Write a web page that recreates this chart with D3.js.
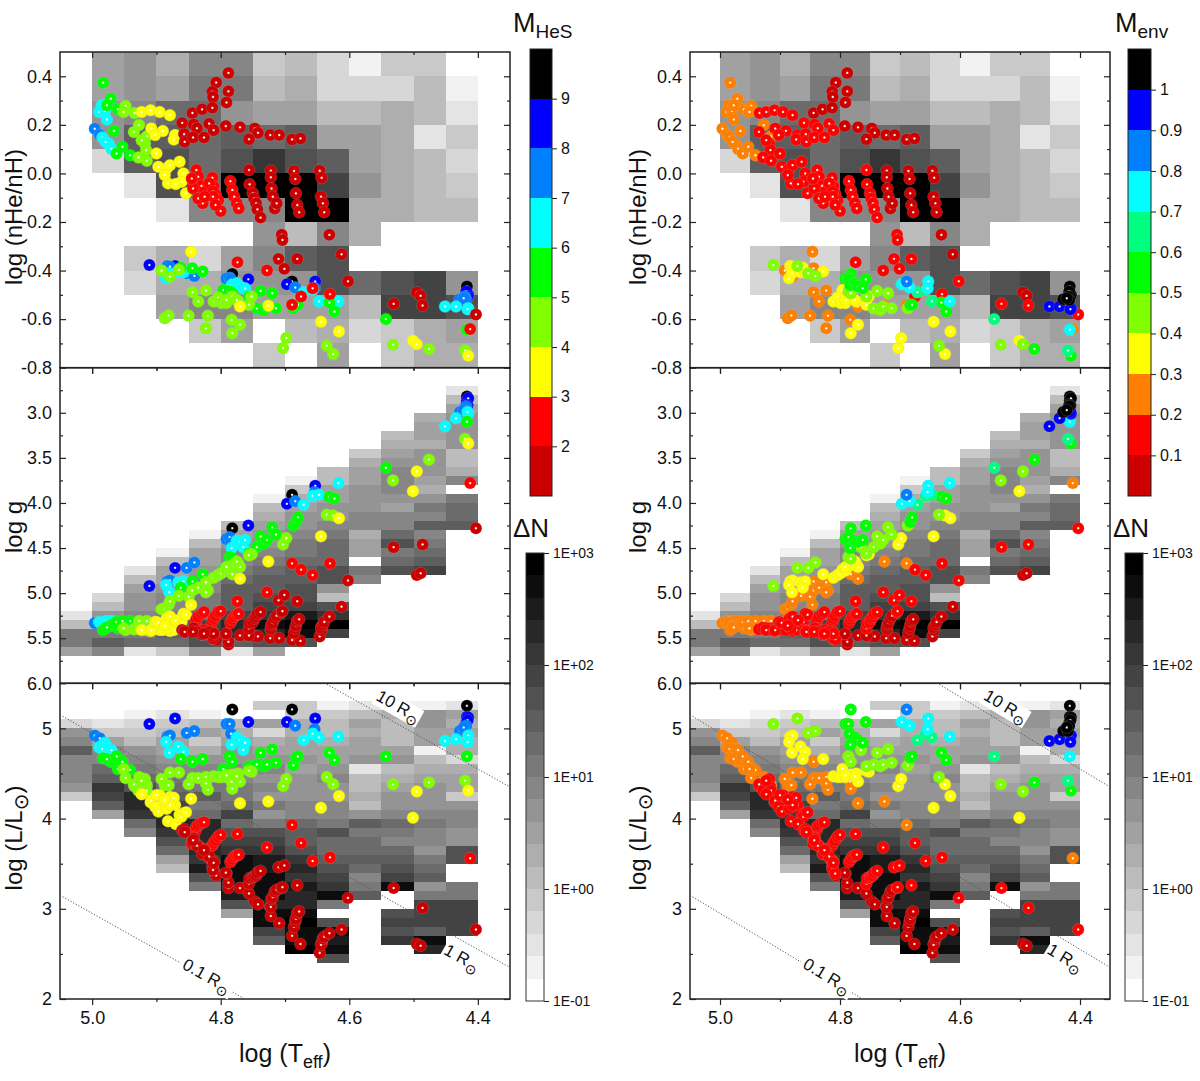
<!DOCTYPE html>
<html>
<head>
<meta charset="utf-8">
<script src="https://d3js.org/d3.v7.min.js"></script>
<style>
  body { margin: 0; background: #fff; }
  svg text { font-family: "Liberation Sans", Arial, sans-serif; fill: #111; }
  .tick text { font-family: "Liberation Sans", Arial, sans-serif; }
</style>
</head>
<body>
<div id="chart"></div>
<script>
// stars, one index per star, sorted by M_HeS bin from high to low
const teff = [
  4.782,4.689,4.417,
  4.911,4.871,4.757,4.697,4.653,4.417,4.415,4.418,4.416,
  4.996,4.988,4.883,4.879,4.853,4.841,4.791,4.786,4.784,4.684,4.654,4.428,4.42,4.418,4.422,
  4.989,4.98,4.977,4.985,4.984,4.974,4.97,4.979,4.885,4.88,4.866,4.858,4.783,4.775,4.77,4.765,4.762,4.671,4.657,4.647,4.617,4.451,4.434,4.415,4.416,
  4.983,4.971,4.96,4.977,4.966,4.962,4.953,4.941,4.862,4.844,4.828,4.796,4.786,4.782,4.756,4.744,4.738,4.733,4.728,4.72,4.714,4.687,4.683,4.68,4.631,4.623,4.543,4.417,
  4.948,4.951,4.934,4.927,4.935,4.915,4.918,4.916,4.928,4.915,4.923,4.892,4.887,4.881,4.879,4.865,4.85,4.844,4.835,4.823,4.82,4.823,4.811,4.804,4.799,4.791,4.782,4.783,4.773,4.77,4.782,4.752,4.756,4.791,4.775,4.703,4.698,4.635,4.625,4.532,4.476,4.42,
  4.923,4.909,4.895,4.879,4.908,4.89,4.902,4.871,4.873,4.9,4.897,4.884,4.879,4.864,4.858,4.882,4.861,4.854,4.87,4.887,4.846,4.77,4.726,4.644,4.616,4.501,4.495,4.415,
  4.839,4.838,4.835,4.83,4.826,4.843,4.845,4.828,4.835,4.813,4.811,4.808,4.804,4.8,4.818,4.812,4.812,4.808,4.825,4.785,4.782,4.779,4.775,4.772,4.774,4.728,4.689,4.675,4.657,4.63,4.412,
  4.788,4.807,4.813,4.812,4.788,4.791,4.844,4.829,4.813,4.86,4.842,4.837,4.818,4.811,4.857,4.856,4.843,4.826,4.792,4.77,4.747,4.742,4.756,4.723,4.709,4.689,4.676,
  4.756,4.755,4.75,4.748,4.745,4.743,4.738,4.722,4.722,4.721,4.719,4.716,4.713,4.686,4.684,4.683,4.681,4.678,4.646,4.643,4.644,4.641,4.639,4.705,4.704,4.631,4.612,4.681,4.71,4.701,4.602,4.495,4.489,4.486,4.531,4.403
];
const logHe = [
  -.414,-.445,-.466,
  -.377,-.381,-.436,-.456,-.445,-.493,-.5,-.486,-.507,
  .184,.158,-.381,-.384,-.411,-.422,-.433,-.43,-.438,-.47,-.473,-.518,-.507,-.521,-.514,
  .253,.258,.222,.281,.148,.121,.101,.13,-.432,-.411,-.407,-.407,-.459,-.452,-.466,-.473,-.473,-.489,-.477,-.527,-.527,-.548,-.548,-.555,-.559,
  .373,.308,.264,.281,.175,.082,.11,.075,-.388,-.39,-.404,-.48,-.486,-.493,-.507,-.556,-.484,-.562,-.548,-.493,-.555,-.555,-.541,-.541,-.532,-.569,-.6,-.644,
  .278,.253,.249,.199,.171,.153,.123,.096,.066,.052,.137,-.4,-.596,-.585,-.425,-.397,-.586,-.489,-.527,-.482,-.586,-.638,-.527,-.511,-.534,-.534,-.507,-.603,-.527,-.623,-.658,-.507,-.541,-.521,-.521,-.719,-.678,-.71,-.744,-.706,-.723,-.729,
  .253,.26,.253,.24,.185,.175,.158,.158,.14,.082,.027,.021,.034,.048,0,-.041,-.034,-.082,-.044,-.007,-.323,-.548,-.545,-.611,-.651,-.689,-.703,-.751,
  -.034,.014,-.014,-.051,-.079,-.062,-.021,-.123,-.103,-.018,-.055,-.085,-.11,-.155,-.041,-.075,-.096,-.13,-.096,-.032,-.068,-.096,-.123,-.144,-.366,-.4,-.541,-.507,-.473,-.497,-.641,
  .414,.374,.336,.315,.338,.292,.249,.264,.27,.208,.201,.186,.205,.178,.162,.13,.148,.148,.195,.19,.185,.167,.141,.158,.158,.14,.144,
  .014,-.045,-.082,-.103,-.123,-.148,-.182,.011,-.016,-.062,-.096,-.144,-.123,.01,-.023,-.082,-.13,-.16,.011,-.018,-.096,-.123,-.16,-.253,-.274,-.253,-.333,-.352,-.352,-.393,-.444,-.49,-.504,-.544,-.537,-.581
];
const logG = [
  4.28,3.91,2.82,
  4.92,4.72,4.25,4.01,3.81,2.86,2.84,2.91,2.92,
  5.33,5.32,4.87,4.86,4.72,4.66,4.4,4.38,4.45,3.98,3.88,2.99,2.95,2.93,2.97,
  5.32,5.32,5.31,5.34,5.33,5.35,5.31,5.37,4.91,4.99,4.88,4.87,4.5,4.42,4.43,4.49,4.41,4.02,3.92,3.91,3.78,3.15,3.06,3.01,2.99,
  5.41,5.36,5.39,5.38,5.34,5.32,5.31,5.31,4.94,4.87,4.79,4.74,4.6,4.62,4.56,4.49,4.37,4.45,4.41,4.27,4.35,4.25,4.21,4.16,3.93,3.95,3.61,3.1,
  5.41,5.39,5.4,5.31,5.4,5.31,5.4,5.39,5.38,5.41,5.39,5.18,5.17,5.13,5.09,5.03,5.04,4.97,4.94,4.88,4.97,4.99,4.83,4.8,4.78,4.75,4.79,4.71,4.67,4.71,4.69,4.57,4.58,4.71,4.65,4.46,4.39,4.13,4.14,3.75,3.52,3.29,
  5.41,5.42,5.41,5.42,5.41,5.41,5.32,5.39,5.41,5.32,5.33,5.28,5.26,5.32,5.23,5.39,5.32,5.24,5.3,5.36,5.13,4.84,4.65,4.37,4.17,3.87,3.65,3.34,
  5.32,5.29,5.26,5.23,5.21,5.41,5.41,5.46,5.41,5.32,5.28,5.25,5.21,5.2,5.45,5.43,5.5,5.51,5.41,5.33,5.29,5.26,5.24,5.23,5.09,4.99,4.67,4.74,4.8,4.67,3.78,
  5.57,5.52,5.5,5.5,5.54,5.45,5.41,5.46,5.47,5.41,5.39,5.43,5.43,5.45,5.42,5.43,5.43,5.45,5.45,5.47,5.48,5.48,5.47,5.5,5.5,5.52,5.53,
  5.39,5.33,5.32,5.28,5.26,5.23,5.21,5.41,5.39,5.35,5.33,5.28,5.25,5.44,5.39,5.36,5.31,5.29,5.48,5.41,5.38,5.35,5.32,5.21,5.2,5.26,5.15,5.09,5.08,5.02,4.86,4.8,4.78,4.46,4.49,4.28
];
const logL = [
  5.21,5.21,5.25,
  5.05,5.11,5.07,5.07,5.11,5.13,5.12,5.06,5.09,
  4.92,4.89,4.91,4.92,4.95,4.97,5.05,5.05,4.94,5.03,4.99,4.97,4.97,5.03,5.01,
  4.79,4.84,4.76,4.81,4.77,4.77,4.76,4.7,4.85,4.73,4.8,4.74,4.82,4.9,4.87,4.76,4.84,4.87,4.94,4.9,4.91,4.86,4.88,4.92,4.85,
  4.67,4.63,4.55,4.66,4.65,4.69,4.63,4.54,4.66,4.63,4.66,4.55,4.69,4.63,4.58,4.6,4.73,4.58,4.6,4.77,4.62,4.59,4.68,4.69,4.73,4.65,4.69,4.69,
  4.45,4.55,4.36,4.46,4.38,4.37,4.44,4.35,4.31,4.31,4.42,4.44,4.37,4.37,4.51,4.51,4.38,4.45,4.45,4.46,4.32,4.39,4.47,4.46,4.46,4.46,4.33,4.41,4.5,4.41,4.49,4.52,4.53,4.48,4.47,4.36,4.44,4.46,4.38,4.38,4.4,4.42,
  4.27,4.18,4.26,4.24,4.2,4.16,4.13,4.15,4.23,4.26,4.08,4.11,4.15,4.04,4.06,3.97,4.02,4.07,3.94,4.21,4.22,4.17,4.19,4.12,4.25,4.01,4.3,4.31,
  3.87,3.91,3.93,3.95,3.96,3.79,3.72,3.61,3.7,3.7,3.73,3.76,3.8,3.82,3.57,3.52,3.45,3.39,3.66,3.52,3.55,3.58,3.59,3.6,3.83,3.68,3.93,3.73,3.53,3.57,3.56,
  3.23,3.37,3.47,3.43,3.29,3.39,3.74,3.61,3.54,3.87,3.78,3.7,3.58,3.51,3.88,3.85,3.76,3.65,3.4,3.23,3.08,3.05,3.17,3.02,2.84,2.7,2.61,
  3.28,3.34,3.35,3.36,3.37,3.4,3.42,2.92,3.02,3.11,3.13,3.19,3.21,2.8,2.86,2.89,2.95,2.97,2.51,2.62,2.6,2.67,2.69,3.23,3.24,2.73,2.77,3.26,3.46,3.48,3.12,2.61,2.59,3.01,3.23,2.77
];
const massHeS = [
  9.5,9.5,9.5,
  8.5,8.5,8.5,8.5,8.5,8.5,8.5,8.5,8.5,
  7.5,7.5,7.5,7.5,7.5,7.5,7.5,7.5,7.5,7.5,7.5,7.5,7.5,7.5,7.5,
  6.5,6.5,6.5,6.5,6.5,6.5,6.5,6.5,6.5,6.5,6.5,6.5,6.5,6.5,6.5,6.5,6.5,6.5,6.5,6.5,6.5,6.5,6.5,6.5,6.5,
  5.5,5.5,5.5,5.5,5.5,5.5,5.5,5.5,5.5,5.5,5.5,5.5,5.5,5.5,5.5,5.5,5.5,5.5,5.5,5.5,5.5,5.5,5.5,5.5,5.5,5.5,5.5,5.5,
  4.5,4.5,4.5,4.5,4.5,4.5,4.5,4.5,4.5,4.5,4.5,4.5,4.5,4.5,4.5,4.5,4.5,4.5,4.5,4.5,4.5,4.5,4.5,4.5,4.5,4.5,4.5,4.5,4.5,4.5,4.5,4.5,4.5,4.5,4.5,4.5,4.5,4.5,4.5,4.5,4.5,4.5,
  3.5,3.5,3.5,3.5,3.5,3.5,3.5,3.5,3.5,3.5,3.5,3.5,3.5,3.5,3.5,3.5,3.5,3.5,3.5,3.5,3.5,3.5,3.5,3.5,3.5,3.5,3.5,3.5,
  2.5,2.5,2.5,2.5,2.5,2.5,2.5,2.5,2.5,2.5,2.5,2.5,2.5,2.5,2.5,2.5,2.5,2.5,2.5,2.5,2.5,2.5,2.5,2.5,2.5,2.5,2.5,2.5,2.5,2.5,2.5,
  1.5,1.5,1.5,1.5,1.5,1.5,1.5,1.5,1.5,1.5,1.5,1.5,1.5,1.5,1.5,1.5,1.5,1.5,1.5,1.5,1.5,1.5,1.5,1.5,1.5,1.5,1.5,
  1.5,1.5,1.5,1.5,1.5,1.5,1.5,1.5,1.5,1.5,1.5,1.5,1.5,1.5,1.5,1.5,1.5,1.5,1.5,1.5,1.5,1.5,1.5,1.5,1.5,1.5,1.5,1.5,1.5,1.5,1.5,1.5,1.5,1.5,1.5,1.5
];
const massEnv = [
  .55,.85,1.05,
  .45,.45,.55,.75,.75,1.05,1.05,1.05,1.05,
  .25,.25,.35,.35,.45,.45,.55,.55,.55,.75,.75,1.05,1.05,1.05,1.05,
  .25,.25,.25,.25,.25,.25,.25,.25,.35,.35,.35,.35,.55,.55,.55,.45,.55,.65,.65,.65,.75,.95,.95,.95,.95,
  .25,.25,.25,.25,.25,.25,.25,.25,.35,.25,.35,.35,.45,.45,.45,.45,.45,.45,.45,.45,.45,.45,.55,.55,.55,.55,.65,.75,
  .25,.25,.15,.25,.15,.25,.15,.15,.15,.15,.15,.25,.25,.25,.25,.25,.25,.25,.25,.25,.25,.25,.35,.35,.35,.35,.25,.25,.35,.35,.35,.35,.35,.35,.35,.35,.35,.45,.35,.45,.55,.65,
  .15,.15,.15,.15,.15,.15,.15,.15,.15,.15,.15,.15,.15,.15,.15,.15,.15,.15,.15,.15,.25,.25,.25,.35,.35,.35,.45,.55,
  .15,.15,.15,.15,.15,.15,.15,.15,.15,.15,.15,.15,.15,.15,.15,.15,.15,.15,.15,.15,.15,.15,.15,.15,.15,.15,.25,.15,.15,.15,.25,
  .05,.05,.05,.05,.05,.05,.05,.05,.05,.15,.15,.15,.15,.15,.15,.15,.15,.15,.05,.05,.05,.05,.05,.05,.05,.05,.05,
  .15,.15,.15,.15,.15,.15,.15,.05,.05,.05,.05,.05,.05,.05,.05,.05,.05,.05,.05,.05,.05,.05,.05,.15,.15,.05,.05,.15,.15,.15,.15,.05,.05,.15,.15,.15
];

// deltaN bands, 0 = white/empty ... 19 = black (each band 0.2 dex)
// nHe/nH panel, rows from +0.5 downwards, columns from logT 5.0 downwards
const heLevels = [
  [7,8,6,9,9,4,5,3,1,4,4,0],
  [7,8,7,10,10,5,6,3,3,3,5,1],
  [8,9,11,11,8,7,7,5,5,6,5,2],
  [8,12,12,11,12,11,12,7,7,6,2,4],
  [3,12,13,11,13,15,13,12,7,6,5,3],
  [0,2,13,11,19,19,19,14,8,6,5,4],
  [0,0,2,9,9,9,19,19,6,6,5,5],
  [0,0,0,0,0,8,5,9,6,0,0,0],
  [0,4,6,3,7,9,12,13,0,0,0,0],
  [0,3,6,6,8,8,8,13,11,13,14,8],
  [0,0,7,9,9,7,7,7,5,14,14,13],
  [0,0,0,4,7,0,5,6,3,4,6,7],
  [0,0,0,0,0,4,0,7,0,4,6,6]
];
// log g panel, one list per 0.05 column from logT 5.05, starting at gStart going down
const gStart = [5.2,5.0,4.7,4.5,4.3,4.2,3.9,3.7,3.6,3.4,3.2,3.0,2.7];
const gLevels = [
  [2,5,10,10,7],
  [3,5,8,9,10,12,9],
  [2,5,7,8,8,9,9,10,11,2],
  [1,5,7,7,8,9,9,10,12,12,11,4],
  [1,5,7,7,8,9,9,10,10,11,14,15,13,8],
  [5,7,8,9,9,10,11,12,12,12,14,16,16,12,2],
  [1,5,6,7,8,8,9,10,11,12,12,13,14,15,18,16,13,7],
  [1,4,6,7,8,8,9,10,10,11,12,12,13,13,14,17,19,18,13],
  [5,5,7,7,8,8,9,10,11,11,11,13,13,8,5,13,15,19,14],
  [4,6,7,7,8,8,8,9,9,6,7,7,0,10,9],
  [5,6,7,8,9,9,9,8,7,9,9,11,13,10,11,13],
  [6,7,7,6,8,8,8,7,6,8,10,9,12,9,10,11,12,14],
  [2,5,7,8,8,8,8,5,5,6,9,0,10,11,11,12]
];
// log L panel, same layout, starting at lStart going down
const lStart = [5.1,5.1,5.2,5.2,5.2,5.1,5.3,5.3,5.3,5.3,5.3,5.3,5.3];
const lLevels = [
  [3,8,9,12,9,9,9,8,4],
  [2,4,7,9,9,11,12,15,14,12,7],
  [1,3,4,5,8,9,10,11,13,16,16,15,11,9],
  [2,4,5,7,7,8,9,10,11,12,14,15,16,15,13,11,7,5],
  [1,5,7,4,6,8,9,9,10,12,10,11,16,16,16,16,15,17,13,10],
  [5,6,7,8,8,9,9,10,10,11,14,11,13,14,15,18,18,18,17,17,13,7],
  [4,0,7,3,6,7,8,9,8,9,8,10,8,10,13,14,15,17,17,18,18,18,16,18,18,14,12],
  [4,4,6,6,7,7,8,7,8,8,8,9,9,11,12,12,13,15,16,15,17,16,16,18,19,18,18,19],
  [1,4,5,5,6,7,7,8,9,8,8,9,9,10,13,11,11,12,13,14,15,18,10,0,13,18,17,18,13],
  [2,5,7,6,7,7,8,2,5,5,6,5,8,12,10,11,11,12,11,9,10,12],
  [1,6,5,5,5,7,8,5,6,7,8,8,9,11,10,9,11,12,13,14,18,0,0,13,14,13,15],
  [1,8,8,7,7,1,5,6,7,8,8,8,9,10,9,9,8,10,11,12,8,10,14,14,14,12,18,16],
  [2,7,6,7,6,6,3,6,7,7,4,8,9,9,8,8,13,13,0,0,10,10,14,14,14,14]
];

const teffTicks = [5.0,4.8,4.6,4.4];
const teffMinor = [4.9,4.7,4.5];
const heTicks = [0.4,0.2,0,-0.2,-0.4,-0.6,-0.8];
const heMinor = [0.3,0.1,-0.1,-0.3,-0.5,-0.7];
const gTicks = [3,3.5,4,4.5,5,5.5,6];
const gMinor = [2.75,3.25,3.75,4.25,4.75,5.25,5.75];
const lTicks = [5,4,3,2];
const lMinor = [4.5,3.5,2.5];

// stellar radius reference lines, end points read at logT 5.05 and 4.35
const radiusTeff = [5.05,4.35];
const radiusLogL = [[3.15,0.35],[5.15,2.35],[7.15,4.35]];
const radiusNames = ["0.1","1","10"];
const radiusLabelTeff = [4.822,4.425,4.524];
const radiusLabelLogL = [2.25,2.45,5.24];

const heSBands = [1,2,3,4,5,6,7,8,9,10];
const heSColors = ["#cc0000","#ff0000","#ffff00","#80ff00","#00ff00","#00ffff","#0080ff","#0000ff","#000000"];
const heSLabels = [2,3,4,5,6,7,8,9];
const envBands = [0,0.1,0.2,0.3,0.4,0.5,0.6,0.7,0.8,0.9,1,1.1];
const envColors = ["#cc0000","#ff0000","#ff8000","#ffff00","#80ff00","#00ff00","#00ff80","#00ffff","#0080ff","#0000ff","#000000"];
const envLabels = [0.1,0.2,0.3,0.4,0.5,0.6,0.7,0.8,0.9,1];
const dnTicks = [0.1,1,10,100,1000];
const dnLabels = ["1E-01","1E+00","1E+01","1E+02","1E+03"];

const W = 1200, H = 1081;
const svg = d3.select("#chart").append("svg").attr("width", W).attr("height", H);
const defs = svg.append("defs");

const stars = teff.map((t, i) => ({ t, he: logHe[i], g: logG[i], l: logL[i], m: massHeS[i], e: massEnv[i] }));

const grey = d3.scaleLinear().domain([0, 19]).range(["#ffffff", "#000000"]);
const heSColor = d3.scaleThreshold().domain(heSBands.slice(1, -1)).range(heSColors);
const envColor = d3.scaleThreshold().domain(envBands.slice(1, -1)).range(envColors);

// shiny ball gradient per colour, small white spot and a slightly darker rim
const ballId = (c) => "ball" + c.slice(1);
[...new Set(heSColors.concat(envColors))].forEach((c) => {
  const rim = d3.color(c).darker(0.35);
  const grad = defs.append("radialGradient").attr("id", ballId(c));
  grad.append("stop").attr("offset", "0%").attr("stop-color", "#ffffff");
  grad.append("stop").attr("offset", "8%").attr("stop-color", "#ffffff");
  grad.append("stop").attr("offset", "28%").attr("stop-color", c);
  grad.append("stop").attr("offset", "82%").attr("stop-color", c);
  grad.append("stop").attr("offset", "100%").attr("stop-color", rim);
});

const rows = [
  { key: "he", top: 52, bottom: 367.7, domain: [0.5, -0.8], ticks: heTicks, minor: heMinor, fmt: (d) => d.toFixed(1) },
  { key: "g", top: 367.7, bottom: 683.3, domain: [2.5, 6], ticks: gTicks, minor: gMinor, fmt: (d) => d.toFixed(1) },
  { key: "l", top: 683.3, bottom: 999, domain: [5.5, 2], ticks: lTicks, minor: lMinor, fmt: (d) => d }
];

// heat cells, one list per temperature column
function drawCells(g, x, y, teff0, starts, levels, step) {
  levels.forEach((col, c) => {
    const t = teff0 - c * 0.05;
    col.forEach((lev, r) => {
      if (!lev) return;
      const v = starts[c] + r * step;
      g.append("rect")
        .attr("x", x(t))
        .attr("width", x(t - 0.05) - x(t))
        .attr("y", y(v))
        .attr("height", y(v + step) - y(v))
        .attr("fill", grey(lev))
        .attr("shape-rendering", "crispEdges");
    });
  });
}

function styleAxis(a) {
  a.select(".domain").remove();
  a.selectAll("line").attr("stroke", "#222").attr("stroke-width", 1.2);
  a.selectAll("text").attr("font-size", 18).attr("fill", "#111");
}

function drawColumn(left, right, yTitleX, colorFn, drawOrder) {
  const x = d3.scaleLinear().domain([5.05, 4.35]).range([left, right]);
  const clipId = "clip" + left;

  rows.forEach((row, ri) => {
    const y = d3.scaleLinear().domain(row.domain).range([row.top, row.bottom]);
    const g = svg.append("g");

    if (row.key == "he") drawCells(g, x, y, 5.0, d3.range(12).map(() => 0.5), d3.transpose(heLevels), -0.1);
    if (row.key == "g") drawCells(g, x, y, 5.05, gStart, gLevels, 0.1);
    if (row.key == "l") drawCells(g, x, y, 5.05, lStart, lLevels, -0.1);

    // ticks, bottom ones point out, the others in
    const bottom = g.append("g").attr("transform", `translate(0,${row.bottom})`);
    bottom.append("g").call(d3.axisBottom(x).tickValues(teffTicks).tickSize(6).tickPadding(6)
      .tickFormat((d) => (ri == 2 ? d.toFixed(1) : ""))).call(styleAxis);
    bottom.append("g").call(d3.axisBottom(x).tickValues(teffMinor).tickSize(3).tickFormat("")).call(styleAxis);
    const top = g.append("g").attr("transform", `translate(0,${row.top})`);
    top.append("g").call(d3.axisTop(x).tickValues(teffTicks).tickSize(-6).tickFormat("")).call(styleAxis);
    top.append("g").call(d3.axisTop(x).tickValues(teffMinor).tickSize(-3).tickFormat("")).call(styleAxis);
    const yl = g.append("g").attr("transform", `translate(${left},0)`);
    yl.append("g").call(d3.axisLeft(y).tickValues(row.ticks).tickSize(-6).tickPadding(8).tickFormat(row.fmt)).call(styleAxis);
    yl.append("g").call(d3.axisLeft(y).tickValues(row.minor).tickSize(-3).tickFormat("")).call(styleAxis);
    const yr = g.append("g").attr("transform", `translate(${right},0)`);
    yr.append("g").call(d3.axisRight(y).tickValues(row.ticks).tickSize(-6).tickFormat("")).call(styleAxis);
    yr.append("g").call(d3.axisRight(y).tickValues(row.minor).tickSize(-3).tickFormat("")).call(styleAxis);

    g.append("rect")
      .attr("x", left).attr("y", row.top)
      .attr("width", right - left).attr("height", row.bottom - row.top)
      .attr("fill", "none").attr("stroke", "#222").attr("stroke-width", 1.5);

    if (row.key == "l") {
      defs.append("clipPath").attr("id", clipId).append("rect")
        .attr("x", left).attr("y", row.top).attr("width", right - left).attr("height", row.bottom - row.top);
      const angle = Math.atan2(y(radiusLogL[1][1]) - y(radiusLogL[1][0]), x(radiusTeff[1]) - x(radiusTeff[0])) * 180 / Math.PI;
      const line = d3.line().x((d) => x(d[0])).y((d) => y(d[1]));
      radiusLogL.forEach((ends) => {
        g.append("path")
          .attr("clip-path", `url(#${clipId})`)
          .attr("d", line(radiusTeff.map((t, i) => [t, ends[i]])))
          .attr("fill", "none").attr("stroke", "#555").attr("stroke-width", 1).attr("stroke-dasharray", "1.2 1.8");
      });
      radiusNames.forEach((name, i) => {
        const lab = g.append("g")
          .attr("transform", `translate(${x(radiusLabelTeff[i])},${y(radiusLabelLogL[i])}) rotate(${angle})`);
        const boxW = name.length * 9 + 32;
        lab.append("rect").attr("x", -boxW / 2).attr("y", -9).attr("width", boxW).attr("height", 19).attr("fill", "#fff");
        const txt = lab.append("text").attr("text-anchor", "middle").attr("y", 5).attr("font-size", 17);
        txt.append("tspan").text(name + " R");
        txt.append("tspan").attr("dy", 5).attr("font-size", 14).style("font-family", "DejaVu Sans").text("\u2299");
      });
    }

    // the stars, not clipped so they can overlap the frame
    g.selectAll("circle.star").data(drawOrder).enter().append("circle")
      .attr("class", "star")
      .attr("cx", (d) => x(d.t))
      .attr("cy", (d) => y(d[row.key]))
      .attr("r", 6)
      .attr("fill", (d) => `url(#${ballId(colorFn(d))})`)
      .attr("stroke", "#fff").attr("stroke-opacity", 0.3).attr("stroke-width", 0.5);
  });

  // y titles
  const yTitle = (cy, parts) => {
    const t = svg.append("text")
      .attr("transform", `translate(${yTitleX},${cy}) rotate(-90)`)
      .attr("text-anchor", "middle").attr("font-size", 24);
    parts.forEach((p) => {
      const s = t.append("tspan").text(p.text);
      if (p.dy) s.attr("dy", p.dy);
      if (p.size) s.attr("font-size", p.size);
      if (p.font) s.style("font-family", p.font);
    });
  };
  yTitle(217, [{ text: "log (nHe/nH)" }]);
  yTitle(527, [{ text: "log g" }]);
  yTitle(838, [{ text: "log (L/L" }, { text: "\u2299", dy: 6, size: 20, font: "DejaVu Sans" }, { text: ")", dy: -6 }]);

  // x title
  const xt = svg.append("text")
    .attr("x", (left + right) / 2).attr("y", 1062)
    .attr("text-anchor", "middle").attr("font-size", 25);
  xt.append("tspan").text("log (T");
  xt.append("tspan").attr("dy", 6).attr("font-size", 18).text("eff");
  xt.append("tspan").attr("dy", -6).text(")");
}

function drawColorBar(x0, x1, bands, colors, labels, fmt) {
  const y = d3.scaleLinear().domain([bands[0], bands[bands.length - 1]]).range([496, 49]);
  const g = svg.append("g");
  colors.forEach((c, i) => {
    g.append("rect")
      .attr("x", x0).attr("width", x1 - x0)
      .attr("y", y(bands[i + 1])).attr("height", y(bands[i]) - y(bands[i + 1]))
      .attr("fill", c).attr("shape-rendering", "crispEdges");
  });
  g.append("rect").attr("x", x0).attr("y", 49).attr("width", x1 - x0).attr("height", 447)
    .attr("fill", "none").attr("stroke", "#222").attr("stroke-width", 1);
  g.append("g").attr("transform", `translate(${x1},0)`)
    .call(d3.axisRight(y).tickValues(labels).tickSize(5).tickPadding(4).tickFormat(fmt))
    .call((a) => {
      a.select(".domain").remove();
      a.selectAll("line").attr("stroke", "#222");
      a.selectAll("text").attr("font-size", 16).attr("fill", "#111");
    });
}

function drawDeltaN(x0, x1) {
  const y = d3.scaleLog().domain([0.1, 1000]).range([1001, 553]);
  const g = svg.append("g");
  d3.range(20).forEach((k) => {
    const lo = Math.pow(10, -1 + k * 0.2), hi = Math.pow(10, -1 + (k + 1) * 0.2);
    g.append("rect")
      .attr("x", x0).attr("width", x1 - x0)
      .attr("y", y(hi)).attr("height", y(lo) - y(hi))
      .attr("fill", grey(k)).attr("shape-rendering", "crispEdges");
  });
  g.append("rect").attr("x", x0).attr("y", 553).attr("width", x1 - x0).attr("height", 448)
    .attr("fill", "none").attr("stroke", "#333").attr("stroke-width", 1);
  g.append("g").attr("transform", `translate(${x1},0)`)
    .call(d3.axisRight(y).tickValues(dnTicks).tickSize(5).tickPadding(4).tickFormat((d, i) => dnLabels[i]))
    .call((a) => {
      a.select(".domain").remove();
      a.selectAll("line").attr("stroke", "#222");
      a.selectAll("text").attr("font-size", 14).attr("fill", "#111");
    });
}

function barTitle(x, sub) {
  const t = svg.append("text").attr("x", x).attr("y", 32).attr("font-size", 27);
  t.append("tspan").text("M");
  t.append("tspan").attr("dy", 6).attr("font-size", 19).text(sub);
}
function deltaTitle(x) {
  svg.append("text").attr("x", x).attr("y", 537).attr("font-size", 26).text("\u0394N");
}

// left column keeps the file order, right column draws by envelope mass
const envRank = (d) => (d.e == 0.25 ? -1 : d.e);
const byEnv = stars.slice().sort((a, b) => envRank(a) - envRank(b));

drawColumn(60, 510, 22, (d) => heSColor(d.m), stars);
drawColumn(690, 1110, 646, (d) => envColor(d.e), byEnv);

drawColorBar(530, 552, heSBands, heSColors, heSLabels, (d) => d);
drawColorBar(1128, 1151, envBands, envColors, envLabels, (d) => d);
drawDeltaN(526, 544);
drawDeltaN(1125, 1143);
barTitle(513, "HeS");
barTitle(1115, "env");
deltaTitle(513);
deltaTitle(1113);
</script>
</body>
</html>
